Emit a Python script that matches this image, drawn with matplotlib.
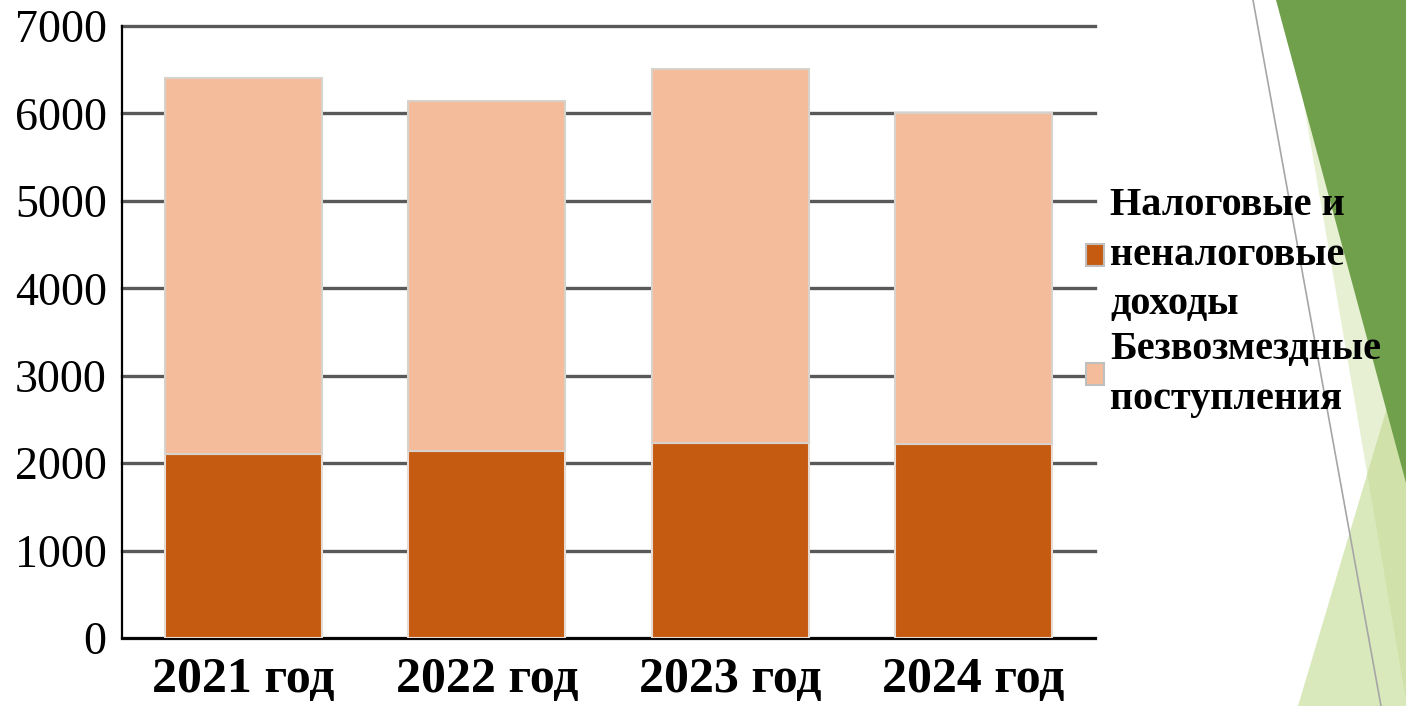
### Доходы бюджета 2021-2024: налоговые/неналоговые доходы и безвозмездные поступления
import matplotlib
matplotlib.use('Agg')
import matplotlib.pyplot as plt
import numpy as np
from matplotlib.patches import Polygon

plt.rcParams['font.family'] = ['Liberation Serif', 'DejaVu Serif']

# данные
years = ['2021 год', '2022 год', '2023 год', '2024 год']
nalog = [2110, 2140, 2230, 2220]          # налоговые и неналоговые доходы
bezvozm = [4290, 4000, 4280, 3790]        # безвозмездные поступления
series_names = ['Налоговые и\nненалоговые\nдоходы', 'Безвозмездные\nпоступления']
yticks = [0, 1000, 2000, 3000, 4000, 5000, 6000, 7000]

W, H = 1406, 706
fig = plt.figure(figsize=(W / 100, H / 100), dpi=100)


def px(x, y):
    # пиксели картинки -> доли фигуры
    return (x / W, 1 - y / H)


# декоративные треугольники справа (тема слайда)
shapes = [
    ([(1298, 706), (1406, 706), (1406, 344)], '#d9e9bb', 1.0),
    ([(1286, 0), (1406, 0), (1406, 700)], '#c2d98c', 0.38),
    ([(1276, 0), (1406, 0), (1406, 483)], '#70a04b', 1.0),
]
for pts, col, a in shapes:
    fig.patches.append(Polygon([px(*p) for p in pts], closed=True, transform=fig.transFigure,
                               facecolor=col, edgecolor='none', alpha=a, zorder=0))
fig.lines.append(plt.Line2D([1253 / W, 1381 / W], [1, 0], transform=fig.transFigure,
                            color='#a6a6a6', lw=1.2, zorder=1))

ax = fig.add_axes([122 / W, 1 - 638 / H, (1095 - 122) / W, (638 - 26) / H])
ax.patch.set_alpha(0)

x = np.arange(len(years))
c1, c2 = '#c55a11', '#f4bc9b'
b1 = ax.bar(x, nalog, width=0.645, color=c1, edgecolor='#e6dcd4', linewidth=1.5,
            label=series_names[0], zorder=3)
b2 = ax.bar(x, bezvozm, width=0.645, bottom=nalog, color=c2, edgecolor='#d8d2cc',
            linewidth=1.5, label=series_names[1], zorder=3)

ax.set_xlim(-0.5, len(years) - 0.5)
ax.set_ylim(0, 7000)
ax.set_yticks(yticks)
ax.set_yticklabels([str(v) for v in yticks], fontsize=33)
ax.set_xticks(x)
ax.set_xticklabels(years, fontsize=36, fontweight='bold')
ax.tick_params(axis='y', length=0, pad=11)
ax.tick_params(axis='x', length=0, pad=14)

ax.yaxis.grid(True, color='#595959', lw=2.4, zorder=1)
ax.set_axisbelow(True)
for s in ['top', 'right']:
    ax.spines[s].set_visible(False)
ax.spines['left'].set_color('black')
ax.spines['left'].set_linewidth(1.6)
ax.spines['bottom'].set_color('black')
ax.spines['bottom'].set_linewidth(2.0)
for gl in ax.get_ygridlines():
    gl.set_clip_on(False)

leg = fig.legend(handles=[b1, b2], labels=series_names, loc='upper left',
                 bbox_to_anchor=px(1086, 187), frameon=False,
                 prop={'size': 29, 'weight': 'bold'}, borderpad=0, borderaxespad=0,
                 handlelength=0.45, handleheight=0.45, handletextpad=0.15, labelspacing=0.2)
for t in leg.get_texts():
    t.set_linespacing(1.45)
for h in leg.legend_handles:
    h.set_edgecolor('#bfbfbf')

plt.savefig('out.png', dpi=100)
